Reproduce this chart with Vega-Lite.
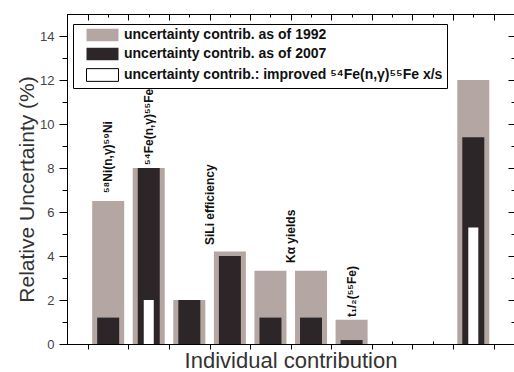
{
  "$schema": "https://vega.github.io/schema/vega-lite/v6.json",
  "width": 447,
  "height": 330,
  "autosize": {"type": "none"},
  "padding": {"left": 67, "top": 14, "right": 0, "bottom": 28},
  "background": "white",
  "config": {
    "view": {"stroke": null},
    "axis": {
      "domainColor": "#000",
      "tickColor": "#000",
      "domainWidth": 1,
      "tickWidth": 1,
      "labelFont": "Liberation Sans",
      "titleFont": "Liberation Sans",
      "labelColor": "#444",
      "titleColor": "#333",
      "titleFontWeight": "normal",
      "grid": false,
      "zindex": 1
    }
  },
  "datasets": {
    "bars": [
      {"slot": 1, "group": "a", "series": "uncertainty contrib. as of 1992", "value": 6.5},
      {"slot": 2, "group": "a", "series": "uncertainty contrib. as of 1992", "value": 8.0},
      {"slot": 3, "group": "a", "series": "uncertainty contrib. as of 1992", "value": 2.0},
      {"slot": 4, "group": "a", "series": "uncertainty contrib. as of 1992", "value": 4.2},
      {"slot": 5, "group": "a", "series": "uncertainty contrib. as of 1992", "value": 3.33},
      {"slot": 6, "group": "a", "series": "uncertainty contrib. as of 1992", "value": 3.33},
      {"slot": 7, "group": "a", "series": "uncertainty contrib. as of 1992", "value": 1.1},
      {"slot": 10, "group": "a", "series": "uncertainty contrib. as of 1992", "value": 12.0},
      {"slot": 1, "group": "b", "series": "uncertainty contrib. as of 2007", "value": 1.2},
      {"slot": 2, "group": "b", "series": "uncertainty contrib. as of 2007", "value": 8.0},
      {"slot": 3, "group": "b", "series": "uncertainty contrib. as of 2007", "value": 2.0},
      {"slot": 4, "group": "b", "series": "uncertainty contrib. as of 2007", "value": 4.0},
      {"slot": 5, "group": "b", "series": "uncertainty contrib. as of 2007", "value": 1.2},
      {"slot": 6, "group": "b", "series": "uncertainty contrib. as of 2007", "value": 1.2},
      {"slot": 7, "group": "b", "series": "uncertainty contrib. as of 2007", "value": 0.18},
      {"slot": 10, "group": "b", "series": "uncertainty contrib. as of 2007", "value": 9.4},
      {"slot": 2, "group": "c", "series": "uncertainty contrib.: improved ⁵⁴Fe(n,γ)⁵⁵Fe x/s", "value": 2.0},
      {"slot": 10, "group": "c", "series": "uncertainty contrib.: improved ⁵⁴Fe(n,γ)⁵⁵Fe x/s", "value": 5.3}
    ],
    "labels": [
      {"slot": 1, "pos": 6.86, "label": "⁵⁸Ni(n,γ)⁵⁹Ni"},
      {"slot": 2, "pos": 8.14, "label": "⁵⁴Fe(n,γ)⁵⁵Fe"},
      {"slot": 3.5, "pos": 4.5, "label": "SiLi efficiency"},
      {"slot": 5.5, "pos": 3.68, "label": "Kα yields"},
      {"slot": 7, "pos": 1.23, "label": "t₁/₂(⁵⁵Fe)"}
    ]
  },
  "layer": [
    {
      "data": {"name": "bars"},
      "transform": [{"filter": "datum.group === 'a'"}],
      "mark": {"type": "bar", "size": 32, "opacity": 1},
      "encoding": {
        "x": {
          "field": "slot", "type": "quantitative",
          "scale": {"domain": [0.108, 10.88], "nice": false, "zero": false},
          "axis": {"orient": "bottom", "values": [0.5,1.5,2.5,3.5,4.5,5.5,6.5,7.5,8.5,9.5,10.5], "tickSize": 5, "labels": false, "title": "Individual contribution", "titleFontSize": 22, "titlePadding": 1}
        },
        "y": {
          "field": "value", "type": "quantitative",
          "scale": {"domain": [0, 15], "nice": false},
          "axis": {"orient": "left", "values": [0,2,4,6,8,10,12,14], "tickSize": 8, "labelPadding": 5, "labelFontSize": 13, "title": "Relative Uncertainty (%)", "titleFontSize": 21, "titlePadding": 2, "titleY": 175, "titleAlign": "center"}
        },
        "color": {
          "field": "series", "type": "nominal",
          "scale": {
            "domain": ["uncertainty contrib. as of 1992", "uncertainty contrib. as of 2007", "uncertainty contrib.: improved ⁵⁴Fe(n,γ)⁵⁵Fe x/s"],
            "range": ["#b4a6a3", "#2d2628", "#ffffff"]
          },
          "legend": {
            "orient": "none", "legendX": 6, "legendY": 10,
            "title": null,
            "strokeColor": "#000", "fillColor": "#fff", "padding": 4,
            "labelFont": "Liberation Sans", "labelFontSize": 14, "labelFontWeight": "bold", "labelColor": "#111",
            "labelLimit": 500, "labelOffset": 14.5,
            "symbolType": "M-2.46,-0.98H2.46V0.98H-2.46Z", "symbolSize": 169, "symbolOffset": 18.5, "symbolOpacity": 1,
            "rowPadding": 5,
            "encode": {"symbols": {"update": {"stroke": [{"test": "indexof(datum.value, 'improved') >= 0", "value": "#000"}, {"value": null}], "strokeWidth": {"value": 1}}}}
          }
        }
      }
    },
    {
      "data": {"name": "bars"},
      "transform": [{"filter": "datum.group === 'b'"}],
      "mark": {"type": "bar", "size": 22, "opacity": 1},
      "encoding": {
        "x": {"field": "slot", "type": "quantitative", "axis": {"orient": "top", "values": [0.5,1.5,2.5,3.5,4.5,5.5,6.5,7.5,8.5,9.5,10.5], "tickSize": -6, "labels": false, "title": null}},
        "y": {"field": "value", "type": "quantitative", "axis": {"orient": "right", "values": [0,2,4,6,8,10,12,14], "tickSize": -6, "labels": false, "title": null}},
        "color": {"field": "series", "type": "nominal"}
      }
    },
    {
      "data": {"name": "bars"},
      "transform": [{"filter": "datum.group === 'c'"}],
      "mark": {"type": "bar", "size": 10, "opacity": 1},
      "encoding": {
        "x": {"field": "slot", "type": "quantitative", "axis": {"orient": "bottom", "values": [1,2,3,4,5,6,7,8,9,10], "tickSize": -3, "labels": false, "title": null}},
        "y": {"field": "value", "type": "quantitative", "axis": {"orient": "left", "values": [1,3,5,7,9,11,13], "tickSize": 5, "labels": false, "title": null}},
        "color": {"field": "series", "type": "nominal"}
      }
    },
    {
      "data": {"name": "labels"},
      "mark": {"type": "text", "angle": 270, "align": "left", "baseline": "middle", "font": "Liberation Sans", "fontSize": 12, "fontWeight": "bold", "color": "#111"},
      "encoding": {
        "x": {"field": "slot", "type": "quantitative", "axis": {"orient": "top", "values": [1,2,3,4,5,6,7,8,9,10], "tickSize": -3, "labels": false, "title": null}},
        "y": {"field": "pos", "type": "quantitative", "axis": {"orient": "right", "values": [1,3,5,7,9,11,13], "tickSize": -3, "labels": false, "title": null}},
        "text": {"field": "label"}
      }
    }
  ],
  "resolve": {"axis": {"x": "independent", "y": "independent"}}
}
